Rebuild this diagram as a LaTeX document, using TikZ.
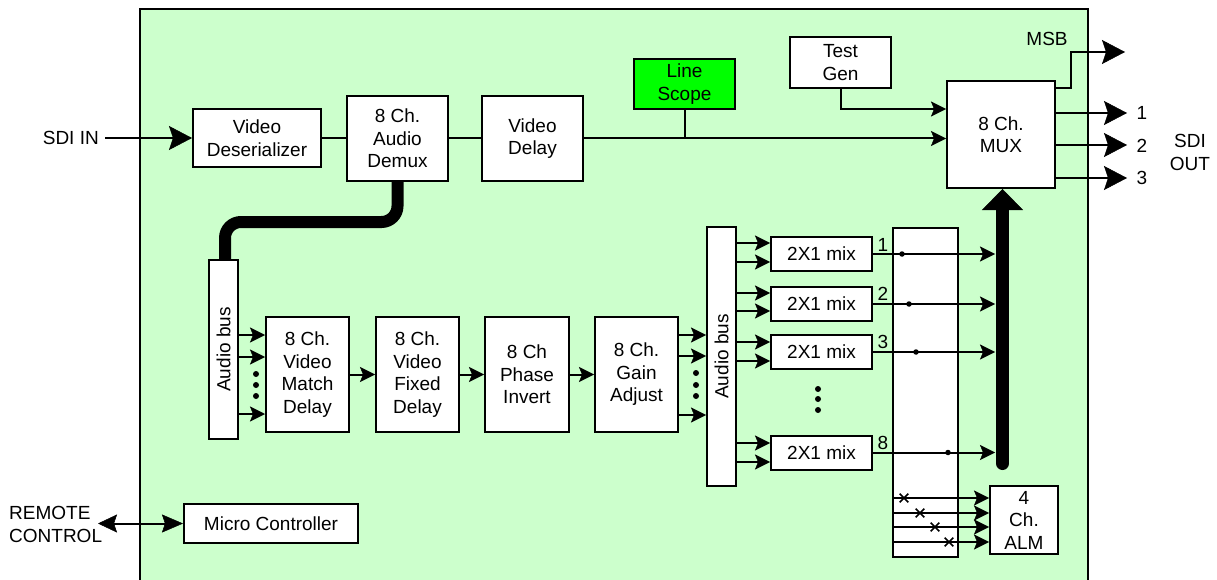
\documentclass[tikz,border=0pt]{standalone}
\usepackage{fontspec}
\usepackage{graphicx}
\setmainfont{Liberation Sans}
\usetikzlibrary{arrows.meta,shapes.misc,calc}
\definecolor{panel}{HTML}{CCFFCC}
\definecolor{scopegreen}{HTML}{00FF00}
\begin{document}
\begin{tikzpicture}[x=1pt,y=-1pt,
  font=\fontsize{19}{22.5}\selectfont,
  every node/.style={inner sep=0pt},
  blk/.style={draw, line width=2pt, fill=white, align=center, inner sep=0pt},
  ln/.style={line width=2pt},
  sarr/.style={line width=2pt, -{Stealth[length=15pt,width=15pt,inset=3pt,line width=0.5pt]}},
  barr/.style={line width=2pt, -{Stealth[length=23pt,width=24pt,inset=4pt,line width=0.5pt]}},
  dotn/.style={circle, fill=black, minimum size=5.5pt, inner sep=0pt},
  xmark/.style={cross out, draw, line width=1.6pt, minimum size=7pt, inner sep=0pt},
  busbox/.style={blk, minimum width=29pt},
  fatline/.style={line width=12pt, rounded corners=16pt}
]
\useasboundingbox (0,0) rectangle (1217,580);
% panel
\fill[panel] (140,9) rectangle (1088,590);
\draw[ln] (140,590) -- (140,9) -- (1088,9) -- (1088,590);

% top row
\node[blk, minimum width=128pt, minimum height=58pt] (des) at (257,138) {Video\\Deserializer};
\node[blk, minimum width=101pt, minimum height=85pt] (dmx) at (397.5,138.5) {8 Ch.\\Audio\\Demux};
\node[blk, minimum width=101pt, minimum height=85pt] (vdl) at (532.5,138.5) {Video\\Delay};
\node[blk, fill=scopegreen, minimum width=101pt, minimum height=50pt] (ls) at (684.5,84) {Line\\Scope};
\node[blk, minimum width=101pt, minimum height=51pt] (tg) at (840.5,62.5) {Test\\Gen};
\node[blk, minimum width=108pt, minimum height=107pt] (mux) at (1001,134.5) {8 Ch.\\MUX};

% audio chain
\node[busbox, minimum height=179pt] (bus1) at (223.5,349.5) {\rotatebox{90}{Audio bus}};
\node[blk, minimum width=83pt, minimum height=115pt] (md) at (307.5,374.5) {8 Ch.\\Video\\Match\\Delay};
\node[blk, minimum width=83pt, minimum height=115pt] (fd) at (417.5,374.5) {8 Ch.\\Video\\Fixed\\Delay};
\node[blk, minimum width=84pt, minimum height=115pt] (pi) at (527,374.5) {8 Ch\\Phase\\Invert};
\node[blk, minimum width=83pt, minimum height=115pt] (ga) at (636.5,374.5) {8 Ch.\\Gain\\Adjust};
\node[busbox, minimum height=259pt] (bus2) at (721.5,356.5) {\rotatebox{90}{Audio bus}};

\node[blk, minimum width=101pt, minimum height=34pt] (m1) at (821.5,254) {2X1 mix};
\node[blk, minimum width=101pt, minimum height=34pt] (m2) at (821.5,304) {2X1 mix};
\node[blk, minimum width=101pt, minimum height=34pt] (m3) at (821.5,352) {2X1 mix};
\node[blk, minimum width=101pt, minimum height=34pt] (m8) at (821.5,452.5) {2X1 mix};

\node[blk, minimum width=65pt, minimum height=329pt] (rt) at (925.5,392.5) {};
\node[blk, minimum width=68pt, minimum height=68pt] (alm) at (1024,520) {4\\Ch.\\ALM};
\node[blk, minimum width=174pt, minimum height=39pt] (mc) at (271,523.5) {Micro Controller};

% labels
\node[anchor=east] (sdiin) at (99,138) {SDI IN};
\node (msb) at (1047,39) {MSB};
\node (l1) at (1142,113) {1};
\node (l2) at (1142,146) {2};
\node (l3) at (1142,178) {3};
\node[align=center] (sdiout) at (1190,152.5) {SDI\\OUT};
\node[anchor=west, align=left] (rc) at (9,524.5) {REMOTE\\CONTROL};
\node (n1) at (883,245) {1};
\node (n2) at (883,294) {2};
\node (n3) at (883,342) {3};
\node (n8) at (883,443) {8};

% free ends
\coordinate (sdistart) at (105,138);
\coordinate (msbend) at (1125,52);
\coordinate (e1) at (1127,113);
\coordinate (e2) at (1127,145);
\coordinate (e3) at (1127,178);
\coordinate (t1) at (995,254);
\coordinate (t2) at (995,304);
\coordinate (t3) at (995,352);
\coordinate (t8) at (995,452.5);
\coordinate (bb) at (1002.5,463.5);
\coordinate (rcend) at (98,523.5);

% top connectors
\draw[barr] (sdistart) -- (des.west);
\draw[ln] (des.east) -- (des.east -| dmx.west);
\draw[ln] (dmx.east) -- (vdl.west);
\draw[sarr] (vdl.east) -- (vdl.east -| mux.west);
\draw[ln] (ls.south) -- (ls.south |- vdl.east);
\draw[sarr] (tg.south) |- (mux.west |- 0,109);
\draw[barr] (mux.east |- 0,88) -| (1071,52) -- (msbend);
\draw[barr] (mux.east |- e1) -- (e1);
\draw[barr] (mux.east |- e2) -- (e2);
\draw[barr] (mux.east |- e3) -- (e3);

% fat bus from demux
\draw[fatline] (dmx.south) |- (225,222) -- (225,260);

% audio chain connectors
\foreach \y in {335,357,414} \draw[sarr] (bus1.east |- 0,\y) -- (md.west |- 0,\y);
\foreach \y [count=\i] in {374,385,396} \node[dotn, minimum size=6pt] (da\i) at (256,\y) {};
\draw[sarr] (md.east) -- (fd.west);
\draw[sarr] (fd.east) -- (pi.west);
\draw[sarr] (pi.east) -- (ga.west);
\foreach \y in {335,356,415} \draw[sarr] (ga.east |- 0,\y) -- (bus2.west |- 0,\y);
\foreach \y [count=\i] in {373,385,396} \node[dotn, minimum size=6pt] (db\i) at (696,\y) {};

\foreach \m/\a/\b in {m1/243/262, m2/293/311, m3/342/361, m8/443/462} {
  \draw[sarr] (bus2.east |- 0,\a) -- (\m.west |- 0,\a);
  \draw[sarr] (bus2.east |- 0,\b) -- (\m.west |- 0,\b);
}
\foreach \y [count=\i] in {389,399,410} \node[dotn, minimum size=6pt] (dc\i) at (818,\y) {};

\draw[sarr] (m1.east) -- (t1);
\draw[sarr] (m2.east) -- (t2);
\draw[sarr] (m3.east) -- (t3);
\draw[sarr] (m8.east) -- (t8);
\node[dotn] (j1) at (902,254) {};
\node[dotn] (j2) at (909,304) {};
\node[dotn] (j3) at (916,352) {};
\node[dotn] (j8) at (948,452.5) {};

% ALM
\foreach \y/\x [count=\i] in {498/904, 513/920, 527/935, 542/949} {
  \draw[sarr] (rt.west |- 0,\y) -- (alm.west |- 0,\y);
  \node[xmark] (xm\i) at (\x,\y) {};
}

% thick arrow to mux
\draw[line width=13pt, line cap=round, -{Triangle[length=21pt,width=41pt,line width=0.5pt]}] (bb) -- (bb |- mux.south);

% remote control
\draw[line width=2pt, {Stealth[length=19pt,width=18pt,inset=3pt,line width=0.5pt]}-{Stealth[length=21pt,width=18pt,inset=3pt,line width=0.5pt]}] (rcend) -- (mc.west);
\end{tikzpicture}
\end{document}
